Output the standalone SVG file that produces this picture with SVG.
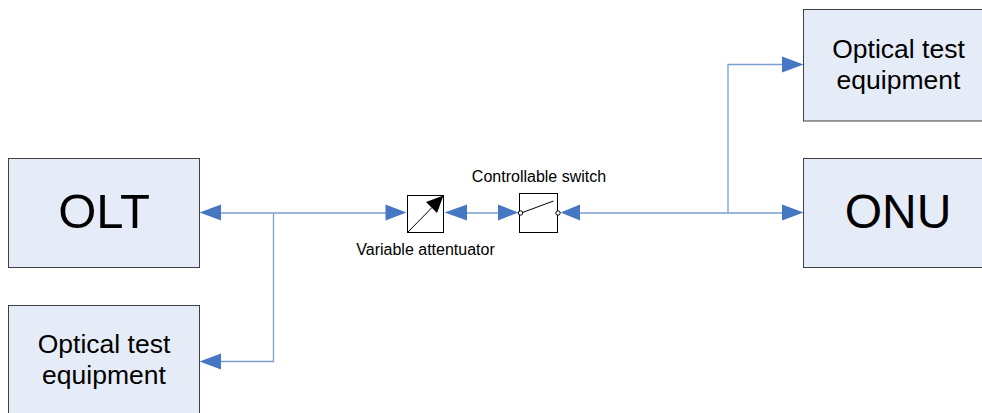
<svg xmlns="http://www.w3.org/2000/svg" width="982" height="413" viewBox="0 0 982 413">
<style>
.box{fill:#e6ecf7;stroke:#404040;stroke-width:1}
.dev{fill:#fff;stroke:#000;stroke-width:1}
.wire{fill:none;stroke:#7b9ed3;stroke-width:1.3}
.head{fill:#4677c2;stroke:none}
text{font-family:"Liberation Sans",Arial,sans-serif;fill:#000;text-anchor:middle}
.big{font-size:49px}
.mid{font-size:26.5px}
.small{font-size:16px}
</style>
<rect width="982" height="413" fill="#fff"/>
<g id="connectors">
<path class="wire" d="M215 213H390M273.500 213V361.500H215M460 213H505M575 213H790M728 213V64.500H790"/>
<polygon class="head" points="199.500,212.500 221,204.500 221,220.500"/>
<polygon class="head" points="199.500,361.500 221,353.500 221,369.500"/>
<polygon class="head" points="406.500,212.500 385.500,204.500 385.500,220.500"/>
<polygon class="head" points="444.500,212.500 467,204.500 467,220.500"/>
<polygon class="head" points="518.500,212.500 498,204.500 498,220.500"/>
<polygon class="head" points="560.500,212.500 580,204.500 580,220.500"/>
<polygon class="head" points="803.500,212.500 782,204.500 782,220.500"/>
<polygon class="head" points="803.500,64.500 782,56.500 782,72.500"/>
</g>
<g id="olt"><rect class="box" x="8.500" y="158.500" width="191" height="109"/><text class="big" x="104" y="228">OLT</text></g>
<g id="test-left"><rect class="box" x="8.500" y="305.500" width="191" height="120"/><text class="mid" x="104" y="353">Optical test</text><text class="mid" x="104" y="384">equipment</text></g>
<g id="test-right"><rect class="box" x="803.500" y="9.500" width="191" height="111.500"/><text class="mid" x="898.500" y="58">Optical test</text><text class="mid" x="898.500" y="89">equipment</text></g>
<g id="onu"><rect class="box" x="803.500" y="158.500" width="191" height="109"/><text class="big" style="font-size:48px" x="898" y="228">ONU</text></g>
<g id="attenuator"><rect class="dev" x="407.500" y="195.500" width="36" height="37"/><path d="M408 232L432 207.500" stroke="#000" stroke-width="1" fill="none"/><polygon points="443.500,195.500 437,213 426,202" fill="#000"/><text class="small" x="425.500" y="255">Variable attentuator</text></g>
<g id="switch"><rect class="dev" x="519.500" y="193.500" width="38" height="39"/><path d="M522.500 212.500L553.500 201" stroke="#000" stroke-width="1" fill="none"/><circle cx="520.500" cy="213" r="2.200" fill="#fff" stroke="#000"/><circle cx="558" cy="213" r="2.200" fill="#fff" stroke="#000"/><text class="small" x="539" y="182">Controllable switch</text></g>
</svg>
